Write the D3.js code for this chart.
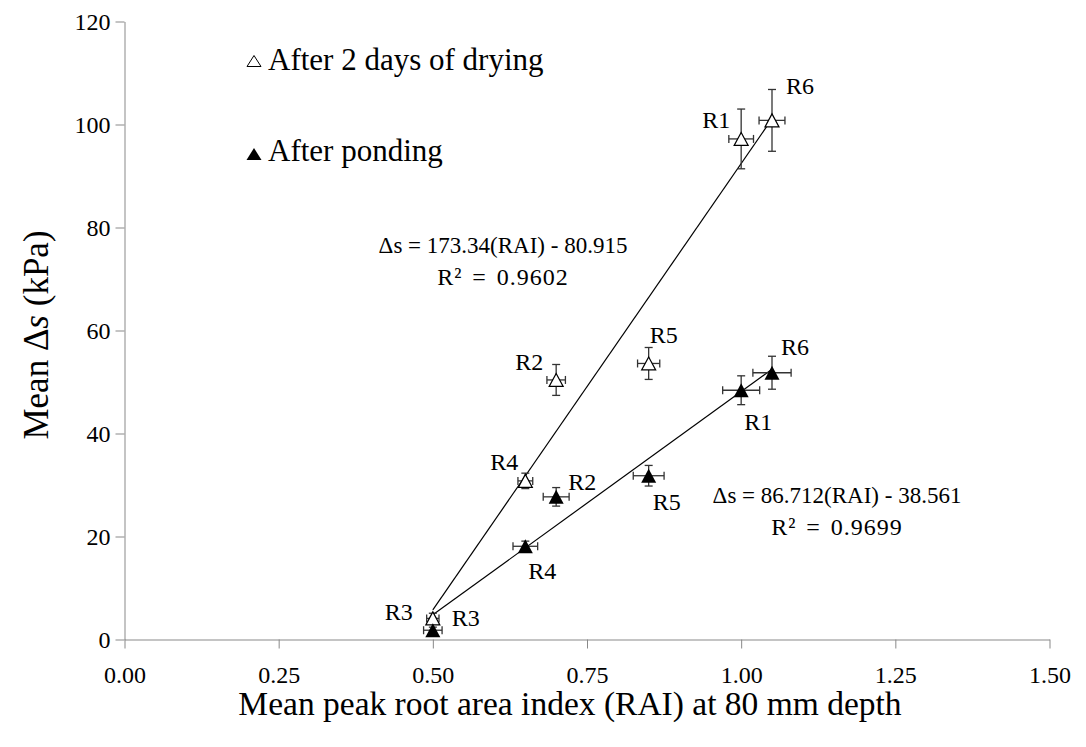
<!DOCTYPE html>
<html>
<head>
<meta charset="utf-8">
<script src="https://cdn.jsdelivr.net/npm/d3@7"></script>
</head>
<body style="margin:0">
<div id="chart-area"></div>
<script>
let width = 1086,
height = 747;

// data
let sites = ["R1", "R2", "R3", "R4", "R5", "R6"];
let rai = [1.00, 0.70, 0.50, 0.65, 0.85, 1.05];
let dryDs = [97.2, 50.4, 4.1, 30.8, 53.6, 100.8];
let dryErrY = [5.8, 3.0, 1.0, 1.5, 3.1, 6.0];
let dryErrX = [0.02, 0.015, 0.01, 0.012, 0.018, 0.021];
let pondDs = [48.4, 27.7, 1.8, 18.1, 31.8, 51.8];
let pondErrY = [2.8, 1.8, 0.6, 1.0, 2.0, 3.2];
let pondErrX = [0.03, 0.021, 0.015, 0.02, 0.025, 0.031];
let xTicks = [0, 0.25, 0.5, 0.75, 1.0, 1.25, 1.5];
let yTicks = [0, 20, 40, 60, 80, 100, 120];
let dryFit = [173.34, -80.915, 0.9602];
let pondFit = [86.712, -38.561, 0.9699];

// label offsets (px) for the R names
let dryLab = [[-11, -11, "end"], [-13, -10, "end"], [-20, 2, "end"], [-7, -11, "end"], [1, -20, "start"], [14, -26, "start"]];
let pondLab = [[3, 40, "start"], [12, -7, "start"], [19, -4, "start"], [3, 33, "start"], [4, 34, "start"], [9, -18, "start"]];

let svg = d3.select("#chart-area").append("svg")
	.attr("width", width)
	.attr("height", height);

// all text gets the Times-like face
function serifText(sel, size) {
	return sel.attr("font-family", "Liberation Serif")
		.style("font-family", "'Liberation Serif'")
		.style("font-size", size + "px");
}

let x = d3.scaleLinear().domain([0, 1.5]).range([124.5, 1049.5]);
let y = d3.scaleLinear().domain([0, 120]).range([639.5, 21.5]);

let axisColor = "#898989";

// x axis
let xAxis = svg.append("g")
	.attr("transform", "translate(0," + y(0) + ")")
	.call(d3.axisBottom(x).tickValues(xTicks).tickSize(9).tickSizeOuter(0).tickFormat(d3.format(".2f")));
xAxis.attr("font-family", "Liberation Serif").attr("font-size", 24);
xAxis.select(".domain").attr("stroke", axisColor);
xAxis.selectAll(".tick line").attr("stroke", axisColor);
serifText(xAxis.selectAll(".tick text"), 24)
	.attr("y", 0).attr("dy", 43)
	.attr("fill", "#000");

// y axis
let yAxis = svg.append("g")
	.attr("transform", "translate(" + x(0) + ",0)")
	.call(d3.axisLeft(y).tickValues(yTicks).tickSize(9).tickSizeOuter(0));
yAxis.attr("font-family", "Liberation Serif").attr("font-size", 24);
yAxis.select(".domain").attr("stroke", axisColor);
yAxis.selectAll(".tick line").attr("stroke", axisColor);
serifText(yAxis.selectAll(".tick text"), 24)
	.attr("x", -14).attr("dy", 8)
	.attr("fill", "#000");

// axis titles
serifText(svg.append("text"), 33.5)
	.attr("x", 570)
	.attr("y", 715)
	.attr("text-anchor", "middle")
	.text("Mean peak root area index (RAI) at 80 mm depth");

let yt = serifText(svg.append("text"), 35)
	.attr("transform", "translate(48,335) rotate(-90)")
	.attr("text-anchor", "middle");
yt.append("tspan").text("Mean \u0394");
yt.append("tspan").style("font-style", "italic").text("s");
yt.append("tspan").text(" (kPa)");

// trend lines
function fitLine(fit, xs) {
	let x0 = d3.min(xs), x1 = d3.max(xs);
	return [[x0, fit[0] * x0 + fit[1]], [x1, fit[0] * x1 + fit[1]]];
}
let line = d3.line().x(d => x(d[0])).y(d => y(d[1]));
[dryFit, pondFit].forEach(f => {
	svg.append("path")
		.attr("d", line(fitLine(f, rai)))
		.attr("fill", "none")
		.attr("stroke", "#000")
		.attr("stroke-width", 1.2);
});

// error bars
function errorBars(vals, ex, ey) {
	let g = svg.append("g").attr("stroke", "#333").attr("stroke-width", 1.3);
	let cap = 4;
	rai.forEach((r, i) => {
		let cx = x(r), cy = y(vals[i]);
		let yt = y(vals[i] + ey[i]), yb = y(vals[i] - ey[i]);
		let xl = x(r - ex[i]), xr = x(r + ex[i]);
		g.append("line").attr("x1", cx).attr("x2", cx).attr("y1", yt).attr("y2", yb);
		g.append("line").attr("x1", cx - cap).attr("x2", cx + cap).attr("y1", yt).attr("y2", yt);
		g.append("line").attr("x1", cx - cap).attr("x2", cx + cap).attr("y1", yb).attr("y2", yb);
		g.append("line").attr("x1", xl).attr("x2", xr).attr("y1", cy).attr("y2", cy);
		g.append("line").attr("x1", xl).attr("x2", xl).attr("y1", cy - cap).attr("y2", cy + cap);
		g.append("line").attr("x1", xr).attr("x2", xr).attr("y1", cy - cap).attr("y2", cy + cap);
	});
}
errorBars(dryDs, dryErrX, dryErrY);
errorBars(pondDs, pondErrX, pondErrY);

// triangle markers
function tri(cx, cy, w, h) {
	return "M" + cx + "," + (cy - h / 2) + "L" + (cx + w / 2) + "," + (cy + h / 2) + "L" + (cx - w / 2) + "," + (cy + h / 2) + "Z";
}
svg.selectAll(".dry")
	.data(dryDs)
	.enter().append("path")
	.attr("class", "dry")
	.attr("d", (d, i) => tri(x(rai[i]), y(d), 14, 13))
	.attr("fill", "#fff")
	.attr("stroke", "#000")
	.attr("stroke-width", 1.2);
svg.selectAll(".pond")
	.data(pondDs)
	.enter().append("path")
	.attr("class", "pond")
	.attr("d", (d, i) => tri(x(rai[i]), y(d), 15, 14))
	.attr("fill", "#000");

// point labels
serifText(svg.selectAll(".drylab")
	.data(dryDs)
	.enter().append("text"), 24)
	.attr("x", (d, i) => x(rai[i]) + dryLab[i][0])
	.attr("y", (d, i) => y(d) + dryLab[i][1])
	.attr("text-anchor", (d, i) => dryLab[i][2])
	.text((d, i) => sites[i]);
serifText(svg.selectAll(".pondlab")
	.data(pondDs)
	.enter().append("text"), 24)
	.attr("x", (d, i) => x(rai[i]) + pondLab[i][0])
	.attr("y", (d, i) => y(d) + pondLab[i][1])
	.attr("text-anchor", (d, i) => pondLab[i][2])
	.text((d, i) => sites[i]);

// equations
function eqn(fit, cx, by) {
	serifText(svg.append("text"), 23).attr("x", cx).attr("y", by).attr("text-anchor", "middle")
		.text("\u0394s = " + fit[0] + "(RAI) - " + Math.abs(fit[1]));
	serifText(svg.append("text"), 24).attr("x", cx).attr("y", by + 32).attr("text-anchor", "middle")
		.style("letter-spacing", "1px")
		.style("word-spacing", "3px")
		.text("R\u00b2 = " + fit[2]);
}
eqn(dryFit, 503, 253);
eqn(pondFit, 837, 503);

// legend
svg.append("path").attr("d", tri(254, 61, 14, 11)).attr("fill", "#fff").attr("stroke", "#000").attr("stroke-width", 1);
serifText(svg.append("text"), 31).attr("x", 268).attr("y", 70).text("After 2 days of drying");
svg.append("path").attr("d", tri(254, 154, 15, 12)).attr("fill", "#000");
serifText(svg.append("text"), 31).attr("x", 268).attr("y", 161).text("After ponding");
</script>
</body>
</html>
